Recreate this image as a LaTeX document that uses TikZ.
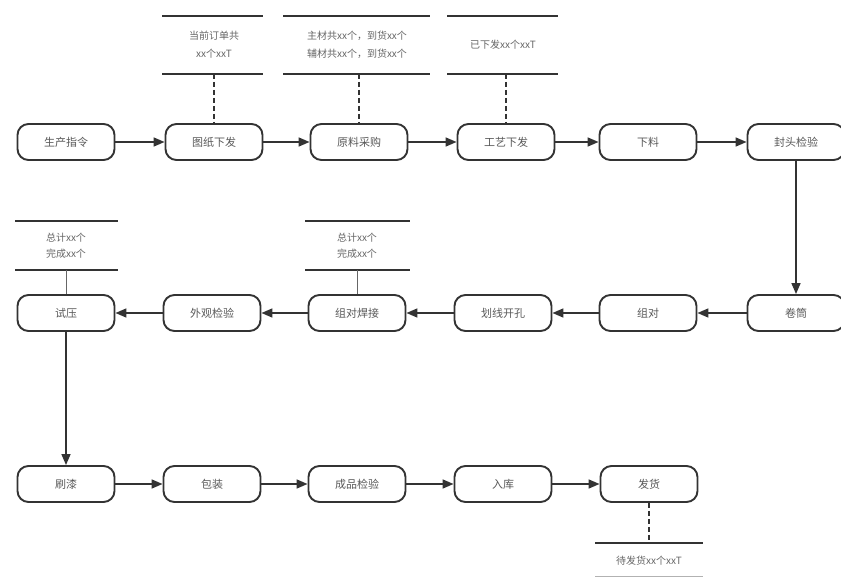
\documentclass[tikz,border=0pt]{standalone}
\usepackage{fontspec}
\setmainfont{Noto Sans CJK SC}
\usetikzlibrary{arrows.meta}
\begin{document}
\begin{tikzpicture}[x=1pt,y=-1pt,
 proc/.style={draw=black!80, line width=1.9pt, rounded corners=11pt, minimum width=97pt, minimum height=36pt, font=\fontsize{11}{13}\selectfont, text=black!65, inner sep=0pt},
 flow/.style={draw=black!80, line width=1.6pt, -{Triangle[length=11pt,width=9pt]}},
 annline/.style={draw=black!80, line width=1.6pt},
 anntext/.style={font=\fontsize{10}{18}\selectfont, text=black!60, align=center},
 anntextb/.style={font=\fontsize{10}{16}\selectfont, text=black!60, align=center},
 tie/.style={draw=black!80, line width=1.4pt, dash pattern=on 5pt off 3pt},
 thintie/.style={draw=black!60, line width=0.7pt}
]
\useasboundingbox (0,0) rectangle (841,577);
\fill[white] (0,0) rectangle (841,577);

% row 1
\node[proc] (n1) at (66,142) {生产指令};
\node[proc] (n2) at (214,142) {图纸下发};
\node[proc] (n3) at (359,142) {原料采购};
\node[proc] (n4) at (506,142) {工艺下发};
\node[proc] (n5) at (648,142) {下料};
\node[proc] (n6) at (796,142) {封头检验};
% row 2
\node[proc] (n7) at (796,313) {卷筒};
\node[proc] (n8) at (648,313) {组对};
\node[proc] (n9) at (503,313) {划线开孔};
\node[proc] (n10) at (357,313) {组对焊接};
\node[proc] (n11) at (212,313) {外观检验};
\node[proc] (n12) at (66,313) {试压};
% row 3
\node[proc] (n13) at (66,484) {刷漆};
\node[proc] (n14) at (212,484) {包装};
\node[proc] (n15) at (357,484) {成品检验};
\node[proc] (n16) at (503,484) {入库};
\node[proc] (n17) at (649,484) {发货};

% flow
\draw[flow] (n1) -- (n2);
\draw[flow] (n2) -- (n3);
\draw[flow] (n3) -- (n4);
\draw[flow] (n4) -- (n5);
\draw[flow] (n5) -- (n6);
\draw[flow] (n6) -- (n7);
\draw[flow] (n7) -- (n8);
\draw[flow] (n8) -- (n9);
\draw[flow] (n9) -- (n10);
\draw[flow] (n10) -- (n11);
\draw[flow] (n11) -- (n12);
\draw[flow] (n12) -- (n13);
\draw[flow] (n13) -- (n14);
\draw[flow] (n14) -- (n15);
\draw[flow] (n15) -- (n16);
\draw[flow] (n16) -- (n17);

% annotations row 1
\node[anntext] (t2) at (214,45) {当前订单共\\xx个xxT};
\draw[annline] (162,16) -- (263,16);
\draw[annline] (162,74) -- (263,74);
\coordinate (b2) at (214,74);
\draw[tie] (b2) -- (n2.north);

\node[anntext] (t3) at (357,45) {主材共xx个，到货xx个\\辅材共xx个，到货xx个};
\draw[annline] (283,16) -- (430,16);
\draw[annline] (283,74) -- (430,74);
\coordinate (b3) at (359,74);
\draw[tie] (b3) -- (n3.north);

\node[anntext] (t4) at (503,45) {已下发xx个xxT};
\draw[annline] (447,16) -- (558,16);
\draw[annline] (447,74) -- (558,74);
\coordinate (b4) at (506,74);
\draw[tie] (b4) -- (n4.north);

% annotations row 2
\node[anntextb] (t12) at (66,246) {总计xx个\\完成xx个};
\draw[annline] (15,221) -- (118,221);
\draw[annline] (15,270) -- (118,270);
\coordinate (b12) at (66,270);
\draw[thintie] (b12) -- (n12.north);

\node[anntextb] (t10) at (357,246) {总计xx个\\完成xx个};
\draw[annline] (305,221) -- (410,221);
\draw[annline] (305,270) -- (410,270);
\coordinate (b10) at (357,270);
\draw[thintie] (b10) -- (n10.north);

% annotation row 3
\node[anntext] (t17) at (649,561) {待发货xx个xxT};
\draw[annline] (595,543) -- (703,543);
\draw[annline, draw=black!30, line width=0.8pt] (595,576) -- (703,576);
\coordinate (b17) at (649,543);
\draw[tie] (n17.south) -- (b17);
\end{tikzpicture}
\end{document}
